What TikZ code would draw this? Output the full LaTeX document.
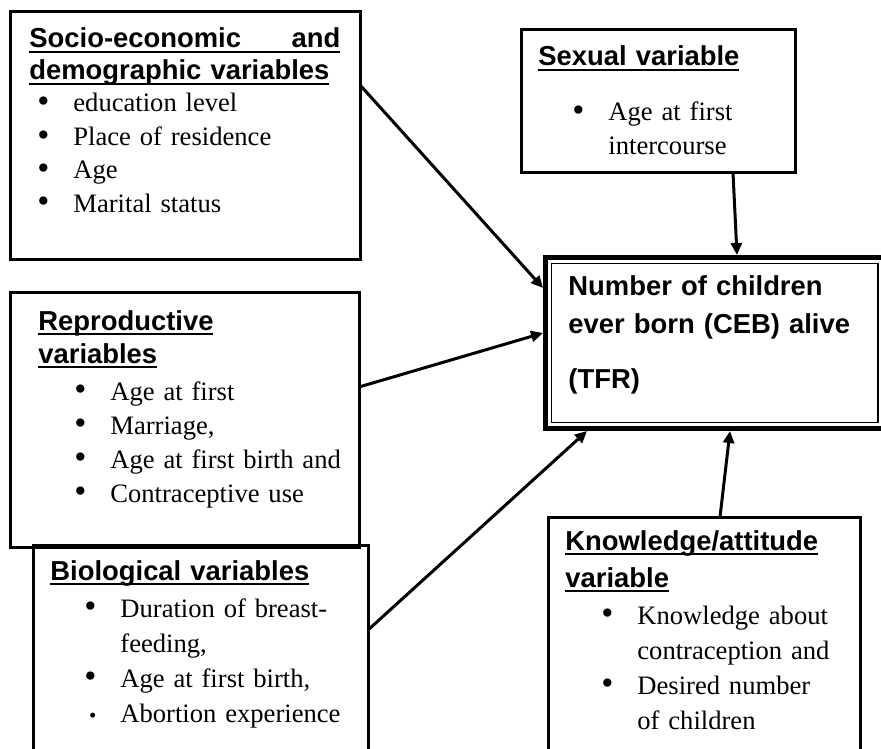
\documentclass[tikz,border=0pt]{standalone}
\usepackage{fontspec,graphicx}
\setmainfont{Liberation Serif}
\setsansfont{Liberation Sans}
\usetikzlibrary{arrows.meta,positioning}
\newcommand\ulbox[1]{\leavevmode\setbox0\hbox{#1}\rlap{\rule[-2.5pt]{\wd0}{1pt}}\box0}
\newcommand\itm{\leavevmode\llap{\raisebox{-0.4pt}{\scalebox{1.3}{\textbullet}}\hspace{12pt}}}
\begin{document}
\begin{tikzpicture}[x=0.5pt,y=-0.5pt,>={Triangle[length=6pt,width=5.5pt]},
	box/.style={draw,line width=1.5pt,inner sep=0pt,outer sep=0pt,anchor=north west},
	ttl/.style={anchor=base west,inner sep=0pt,text width=170pt,align=left,font=\sffamily\bfseries\fontsize{13.7}{#1}\selectfont},ttl/.default=16.5pt,
	lst/.style={anchor=base west,inner sep=0pt,text width=170pt,align=left,font=\fontsize{13.3}{#1}\selectfont},lst/.default=17pt,
	conn/.style={->,line width=1.5pt}]
	\useasboundingbox[fill=white] (0,0) rectangle (881,748);
	\clip (0,0) rectangle (881,748);
	\node[box,minimum width=175pt,minimum height=124pt] (socio) at (10,12) {};
	\node[ttl=16pt] (socio-t) at ([shift={(19,36)}]socio.north west) {\ulbox{\makebox[155.5pt][l]{Socio-economic\hfill and}}\\\ulbox{demographic variables}};
	\node[lst=16.7pt] (socio-l) at ([shift={(63,100)}]socio.north west) {\itm education level\\\itm Place of residence\\\itm Age\\\itm Marital status};
	\node[box,minimum width=137pt,minimum height=71.5pt] (sex) at (521,30) {};
	\node[ttl] (sex-t) at ([shift={(17,36)}]sex.north west) {\ulbox{Sexual variable}};
	\node[lst] (sex-l) at ([shift={(87,91)}]sex.north west) {\itm Age at first\\intercourse};
	\node[box,line width=2.5pt,minimum width=169.25pt,minimum height=85.5pt] (ceb) at (545.5,257.5) {};
	\draw[line width=0.6pt] ([shift={(6,6)}]ceb.north west) rectangle ([shift={(-6,-6)}]ceb.south east);
	\node[ttl=19pt] (ceb-t) at ([shift={(22.5,37.5)}]ceb.north west) {Number of children\\ever born (CEB) alive\\[8.5pt](TFR)};
	\node[box,minimum width=174.5pt,minimum height=127.5pt] (repro) at (10,292) {};
	\node[ttl] (repro-t) at ([shift={(28,38)}]repro.north west) {\ulbox{Reproductive}\\\ulbox{variables}};
	\node[lst] (repro-l) at ([shift={(100,108)}]repro.north west) {\itm Age at first\\\itm Marriage,\\\itm Age at first birth and\\\itm Contraceptive use};
	\node[box,minimum width=167.5pt,minimum height=130pt] (bio) at (33,545) {};
	\node[ttl] (bio-t) at ([shift={(17,35)}]bio.north west) {\ulbox{Biological variables}};
	\node[lst=17.5pt] (bio-l) at ([shift={(87,72)}]bio.north west) {\itm Duration of breast-\\feeding,\\\itm Age at first birth,\\{\footnotesize\itm}Abortion experience};
	\node[box,minimum width=156pt,minimum height=141.5pt] (know) at (548,517) {};
	\node[ttl=18.5pt] (know-t) at ([shift={(17,33)}]know.north west) {\ulbox{Knowledge/attitude}\\\ulbox{variable}};
	\node[lst=17.5pt] (know-l) at ([shift={(89,107)}]know.north west) {\itm Knowledge about\\contraception and\\\itm Desired number\\of children};
	\draw[conn] ([shift={(0,73)}]socio.north east) -- ([shift={(-2.5,30.5)}]ceb.north west);
	\draw[conn] ([shift={(0,95)}]repro.north east) -- ([shift={(-2.5,75.5)}]ceb.north west);
	\draw[conn] ([shift={(0,85)}]bio.north east) -- ([shift={(41.5,2.5)}]ceb.south west);
	\draw[conn] ([shift={(172,0)}]know.north west) -- ([shift={(184.5,2.5)}]ceb.south west);
	\draw[conn] ([shift={(212,0)}]sex.south west) -- ([shift={(191.5,-2.5)}]ceb.north west);
\end{tikzpicture}
\end{document}
